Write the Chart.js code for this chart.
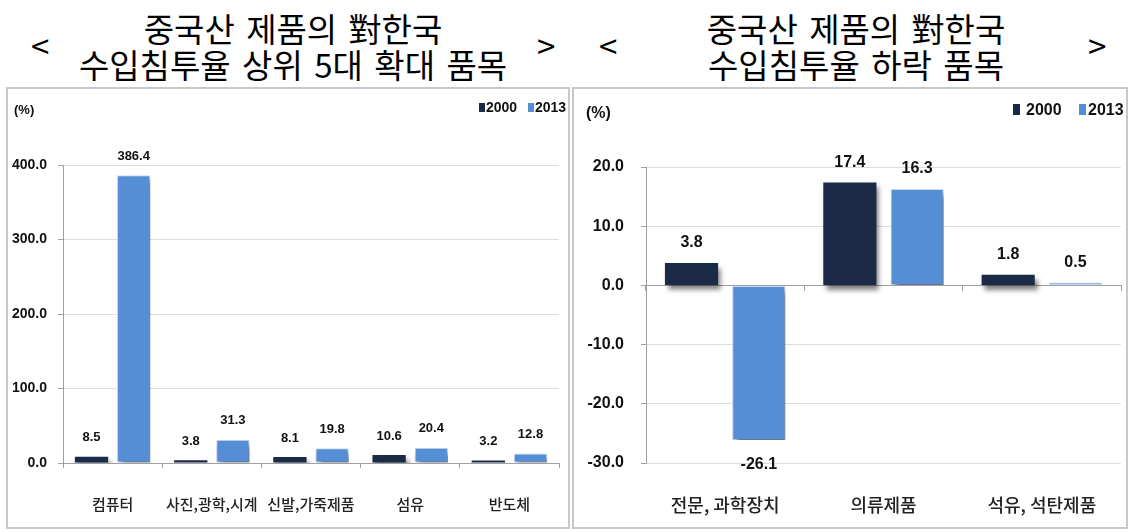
<!DOCTYPE html>
<html><head><meta charset="utf-8">
<script src="https://cdn.jsdelivr.net/npm/chart.js@4.4.1/dist/chart.umd.min.js"></script>
<style>
body{margin:0;background:#fff;width:1130px;height:531px;position:relative;overflow:hidden;font-family:'Noto Sans CJK KR',sans-serif;}
.t{position:absolute;font-size:33px;line-height:36px;word-spacing:4px;text-align:center;color:#000;white-space:nowrap;transform:translateX(-50%)}
.br{position:absolute;font-size:33px;line-height:36px;color:#000}
.panel{position:absolute;border:2px solid #c8c8c8;box-sizing:border-box}
canvas{position:absolute}
.lab{position:absolute;white-space:nowrap;color:#111;line-height:20px}
.sq{position:absolute}
</style></head>
<body>
<div class="br" style="left:31px;top:27px">&lt;</div>
<div class="t" style="left:293px;top:10px">중국산 제품의 對한국<br>수입침투율 상위 5대 확대 품목</div>
<div class="br" style="left:537px;top:27px">&gt;</div>
<div class="br" style="left:599px;top:27px">&lt;</div>
<div class="t" style="left:856px;top:10px">중국산 제품의 對한국<br>수입침투율 하락 품목</div>
<div class="br" style="left:1088px;top:27px">&gt;</div>

<div class="panel" style="left:6px;top:87px;width:564px;height:442px"></div>
<div class="panel" style="left:572px;top:87px;width:556px;height:442px"></div>

<canvas id="cL" width="560" height="438" style="left:8px;top:89px"></canvas>
<canvas id="cR" width="552" height="438" style="left:574px;top:89px"></canvas>

<div class="lab" style="left:14px;top:102px;font:bold 13px 'Liberation Sans',sans-serif">(%)</div>
<div class="sq" style="left:479px;top:103px;width:6px;height:9px;background:#1b2a47"></div>
<div class="lab" style="left:486px;top:97px;font:bold 14px 'Liberation Sans',sans-serif;line-height:20px">2000</div>
<div class="sq" style="left:528px;top:103px;width:6px;height:9px;background:#558ed5"></div>
<div class="lab" style="left:535px;top:97px;font:bold 14px 'Liberation Sans',sans-serif;line-height:20px">2013</div>

<div class="lab" style="left:586px;top:103px;font:bold 16px 'Liberation Sans',sans-serif;line-height:20px">(%)</div>
<div class="sq" style="left:1013px;top:104px;width:7px;height:11px;background:#1b2a47"></div>
<div class="lab" style="left:1026px;top:100px;font:bold 16px 'Liberation Sans',sans-serif;line-height:20px">2000</div>
<div class="sq" style="left:1079px;top:104px;width:7px;height:11px;background:#558ed5"></div>
<div class="lab" style="left:1088px;top:100px;font:bold 16px 'Liberation Sans',sans-serif;line-height:20px">2013</div>

<script>
// ---- data ----
const catsLeft = ['컴퓨터', '사진,광학,시계', '신발,가죽제품', '섬유', '반도체'];
const left2000 = [8.5, 3.8, 8.1, 10.6, 3.2];
const left2013 = [386.4, 31.3, 19.8, 20.4, 12.8];
const leftYRange = [0, 400, 100];

const catsRight = ['전문, 과학장치', '의류제품', '석유, 석탄제품'];
const right2000 = [3.8, 17.4, 1.8];
const right2013 = [-26.1, 16.3, 0.5];
const rightYRange = [-30, 20, 10];

const seriesNames = ['2000', '2013'];
const colors = ['#1b2a47', '#558ed5'];

// ---- plugins ----
const barShadow = {
  id: 'barShadow',
  beforeDatasetsDraw(chart) {
    const c = chart.ctx; c.save();
    c.shadowColor = 'rgba(0,0,0,0.5)'; c.shadowBlur = 5; c.shadowOffsetX = 3; c.shadowOffsetY = 5;
  },
  afterDatasetsDraw(chart) { chart.ctx.restore(); }
};
const valueLabels = {
  id: 'valueLabels',
  afterDatasetsDraw(chart, args, opts) {
    const ctx = chart.ctx; ctx.save();
    ctx.font = opts.font; ctx.fillStyle = '#111'; ctx.textAlign = 'center'; ctx.textBaseline = 'middle';
    chart.data.datasets.forEach((ds, i) => {
      chart.getDatasetMeta(i).data.forEach((bar, j) => {
        const v = ds.data[j];
        const y = v >= 0 ? bar.y - opts.up : bar.y + opts.down;
        ctx.fillText(v.toFixed(1), bar.x, y);
      });
    });
    ctx.restore();
  }
};

function makeDatasets(a, b) {
  return [
    {label: seriesNames[0], data: a, backgroundColor: colors[0], categoryPercentage: 0.85, barPercentage: 0.79},
    {label: seriesNames[1], data: b, backgroundColor: colors[1], borderColor: '#c9daf2', borderWidth: 1, borderSkipped: false, categoryPercentage: 0.85, barPercentage: 0.79}
  ];
}

const sans = "'Liberation Sans',sans-serif";

new Chart(document.getElementById('cL'), {
  type: 'bar',
  data: {labels: catsLeft, datasets: makeDatasets(left2000, left2013)},
  plugins: [barShadow, valueLabels],
  options: {
    responsive: false, animation: false,
    layout: {padding: {left: 0, top: 76, right: 9, bottom: 0}},
    plugins: {legend: {display: false}, tooltip: {enabled: false},
      valueLabels: {font: "bold 13px " + sans, up: 19, down: 24}},
    scales: {
      x: {
        grid: {drawOnChartArea: false, tickLength: 5, color: '#a0a0a0', offset: true},
        border: {color: '#a0a0a0'},
        ticks: {autoSkip: false, maxRotation: 0, padding: 27, color: '#222',
          font: {family: "'Noto Sans CJK KR'", size: 15, weight: 500}},
        afterFit(s) { s.height = 64; }
      },
      y: {
        min: leftYRange[0], max: leftYRange[1],
        ticks: {stepSize: leftYRange[2], padding: 11, color: '#111',
          font: {family: sans, size: 14, weight: 'bold'},
          callback: v => v.toFixed(1)},
        grid: {color: '#dedede', tickLength: 5, tickColor: '#a0a0a0'},
        border: {color: '#a0a0a0'},
        afterFit(s) { s.width = 55; }
      }
    }
  }
});

new Chart(document.getElementById('cR'), {
  type: 'bar',
  data: {labels: catsRight, datasets: makeDatasets(right2000, right2013)},
  plugins: [barShadow, valueLabels],
  options: {
    responsive: false, animation: false,
    layout: {padding: {left: 0, top: 78, right: 5, bottom: 0}},
    plugins: {legend: {display: false}, tooltip: {enabled: false},
      valueLabels: {font: "bold 16px " + sans, up: 20, down: 25}},
    scales: {
      x: {
        grid: {display: false},
        border: {display: false},
        ticks: {autoSkip: false, maxRotation: 0, padding: 23, color: '#222',
          font: {family: "'Noto Sans CJK KR'", size: 18, weight: 500}},
        afterFit(s) { s.height = 64; }
      },
      x2: {
        type: 'category', labels: catsRight, offset: true,
        position: {y: 0},
        ticks: {display: false},
        grid: {drawOnChartArea: false, tickLength: 5, color: '#a0a0a0', offset: true},
        border: {color: '#a0a0a0'}
      },
      y: {
        min: rightYRange[0], max: rightYRange[1],
        ticks: {stepSize: rightYRange[2], padding: 17, color: '#111',
          font: {family: sans, size: 16, weight: 'bold'},
          callback: v => v.toFixed(1)},
        grid: {color: '#dedede', tickLength: 5, tickColor: '#a0a0a0'},
        border: {color: '#a0a0a0'},
        afterFit(s) { s.width = 72; }
      }
    }
  }
});
</script>
</body></html>
